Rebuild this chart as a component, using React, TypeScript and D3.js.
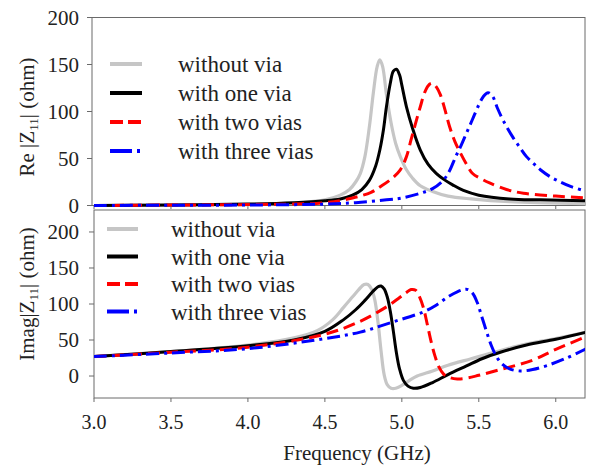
import React from "react";
import * as d3 from "d3";

type Pt = [number, number];

// ---- data (frequency GHz, value ohm) ----
const seriesNames = ["without via", "with one via", "with two vias", "with three vias"];

const reWithout: Pt[] = [
  [3.0, 0], [3.5, 0.5], [4.0, 1], [4.4, 4], [4.5, 6], [4.6, 11], [4.66, 17], [4.7, 25], [4.73, 34],
  [4.76, 52], [4.79, 85], [4.815, 120], [4.84, 148], [4.857, 155], [4.875, 148], [4.9, 118],
  [4.93, 88], [4.96, 66], [4.99, 52], [5.03, 38], [5.07, 29], [5.12, 21], [5.2, 15], [5.3, 10],
  [5.45, 7], [5.7, 4], [6.2, 2],
];
const reOne: Pt[] = [
  [3.0, 0], [3.5, 0.5], [4.0, 1.5], [4.3, 3], [4.5, 5], [4.6, 7], [4.68, 11], [4.74, 17],
  [4.79, 27], [4.83, 42], [4.857, 59], [4.88, 80], [4.9, 105], [4.925, 130], [4.945, 143],
  [4.965, 145], [4.985, 139], [5.0, 128], [5.03, 105], [5.07, 82], [5.12, 59], [5.17, 44],
  [5.225, 34], [5.28, 27], [5.33, 22], [5.4, 16], [5.5, 11], [5.7, 7], [5.9, 6], [6.2, 5],
];
const reTwo: Pt[] = [
  [3.0, 0], [3.5, 0.5], [4.0, 1], [4.5, 3], [4.68, 8], [4.8, 14], [4.86, 20], [4.93, 28],
  [4.99, 38], [5.03, 52], [5.06, 70], [5.09, 88], [5.12, 105], [5.15, 121], [5.18, 129],
  [5.2, 130], [5.225, 126], [5.25, 118], [5.28, 102], [5.31, 84], [5.345, 68], [5.38, 56],
  [5.42, 44], [5.46, 34], [5.52, 28], [5.57, 24], [5.68, 17], [5.79, 13], [6.0, 10], [6.2, 8],
];
const reThree: Pt[] = [
  [3.0, 0], [3.5, 0.3], [4.0, 0.5], [4.5, 1.5], [4.7, 3], [4.9, 6], [5.0, 8], [5.12, 13],
  [5.2, 18], [5.27, 27], [5.31, 37], [5.35, 52], [5.38, 62], [5.42, 77], [5.46, 92], [5.5, 107],
  [5.53, 116], [5.56, 120], [5.59, 116], [5.62, 104], [5.66, 90], [5.72, 73], [5.77, 61],
  [5.81, 52], [5.86, 44], [5.9, 38], [5.96, 31], [6.03, 25], [6.1, 20], [6.2, 15],
];

const imWithout: Pt[] = [
  [3.0, 27], [3.5, 34], [4.0, 43], [4.3, 53], [4.45, 63], [4.55, 78], [4.62, 95], [4.68, 110],
  [4.72, 120], [4.755, 127], [4.78, 127], [4.805, 120], [4.825, 105], [4.845, 75], [4.865, 35],
  [4.885, 2], [4.905, -12], [4.93, -17], [4.96, -17], [5.0, -13], [5.05, -6], [5.1, 0],
  [5.2, 7], [5.3, 15], [5.45, 24], [5.6, 33], [5.8, 44], [6.0, 52], [6.2, 61],
];
const imOne: Pt[] = [
  [3.0, 27], [3.5, 34], [4.0, 42], [4.3, 50], [4.5, 62], [4.62, 78], [4.7, 92], [4.76, 105],
  [4.81, 117], [4.845, 124], [4.865, 125], [4.885, 121], [4.905, 110], [4.925, 90], [4.945, 62],
  [4.965, 32], [4.985, 10], [5.01, -6], [5.04, -14], [5.075, -17], [5.12, -16], [5.2, -9],
  [5.3, 2], [5.42, 14], [5.52, 24], [5.64, 33], [5.81, 43], [6.0, 51], [6.2, 61],
];
const imTwo: Pt[] = [
  [3.0, 27], [3.5, 33], [4.0, 40], [4.5, 58], [4.73, 76], [4.9, 96], [4.98, 108], [5.03, 116],
  [5.06, 120], [5.09, 119], [5.115, 110], [5.14, 95], [5.165, 72], [5.19, 48], [5.215, 28],
  [5.24, 13], [5.27, 3], [5.31, -2], [5.36, -4], [5.42, -3], [5.5, 1], [5.64, 9], [5.85, 22],
  [6.0, 37], [6.2, 55],
];
const imThree: Pt[] = [
  [3.0, 27], [3.5, 32], [4.0, 38], [4.5, 52], [4.73, 61], [4.94, 75], [5.14, 89], [5.22, 98],
  [5.3, 110], [5.36, 117], [5.4, 120], [5.43, 120], [5.46, 115], [5.49, 102], [5.52, 82],
  [5.55, 62], [5.58, 43], [5.615, 27], [5.65, 17], [5.7, 10], [5.77, 7], [5.85, 9], [5.95, 15],
  [6.07, 25], [6.2, 38],
];

const xTicks = [3.0, 3.5, 4.0, 4.5, 5.0, 5.5, 6.0];
const reTicks = [0, 50, 100, 150, 200];
const imTicks = [0, 50, 100, 150, 200];

// ---- styles ----
const colors = ["#c6c6c6", "#000000", "#ff0000", "#0000ff"];
const dashes = ["none", "none", "12 6", "13 5 3 5"];
const widths = [3.2, 3, 3, 3];

const W = 589;
const H = 469;
const FONT = "Liberation Serif, DejaVu Serif, Noto Serif, Times, serif";
const AX = "#6a6a6a";

export default function App() {
  const x = d3.scaleLinear().domain([3, 6.19]).range([94, 585]);
  const yRe = d3.scaleLinear().domain([0, 200]).range([205.5, 17.5]);
  const yIm = d3.scaleLinear().domain([-30.5, 230.5]).range([398, 210]);

  const curve = d3.curveCatmullRom.alpha(0.5);
  const lineRe = d3.line<Pt>().x((d) => x(d[0])).y((d) => yRe(d[1])).curve(curve);
  const lineIm = d3.line<Pt>().x((d) => x(d[0])).y((d) => yIm(d[1])).curve(curve);

  const reData = [reWithout, reOne, reTwo, reThree];
  const imData = [imWithout, imOne, imTwo, imThree];

  const legend = (lx1: number, lx2: number, tx: number, y0: number, dy: number) =>
    seriesNames.map((n, i) => (
      <g key={n}>
        <line x1={lx1} x2={lx2} y1={y0 + i * dy} y2={y0 + i * dy} stroke={colors[i]}
          strokeWidth={4} strokeDasharray={i === 2 ? "13 5" : i === 3 ? "22 5 3 5" : undefined} />
        <text x={tx} y={y0 + i * dy + 8} fontSize={23} style={{ fontFamily: FONT }} fill="#222">{n}</text>
      </g>
    ));

  return (
    <svg width={W} height={H} style={{ position: "absolute", left: 0, top: 0, background: "#fff" }}>
      <defs>
        <clipPath id="clipRe"><rect x={92} y={17.5} width={493} height={191} /></clipPath>
        <clipPath id="clipIm"><rect x={94} y={210} width={491} height={188} /></clipPath>
      </defs>

      <rect x={92} y={17.5} width={493} height={188} fill="none" stroke={AX} strokeWidth={1} />
      <rect x={94} y={210} width={491} height={188} fill="none" stroke={AX} strokeWidth={1} />

      {reTicks.map((t) => (
        <g key={"rt" + t}>
          <line x1={87} x2={92} y1={yRe(t)} y2={yRe(t)} stroke={AX} />
          <text x={79} y={yRe(t) + 7} textAnchor="end" fontSize={21} style={{ fontFamily: FONT }} fill="#222">{t}</text>
        </g>
      ))}
      {imTicks.map((t) => (
        <g key={"it" + t}>
          <line x1={89} x2={94} y1={yIm(t)} y2={yIm(t)} stroke={AX} />
          <text x={79} y={yIm(t) + 7} textAnchor="end" fontSize={21} style={{ fontFamily: FONT }} fill="#222">{t}</text>
        </g>
      ))}
      {xTicks.map((t) => (
        <g key={"xt" + t}>
          <line x1={x(t)} x2={x(t)} y1={205.5} y2={209} stroke={AX} />
          <line x1={x(t)} x2={x(t)} y1={398} y2={402} stroke={AX} />
          <text x={x(t)} y={429} textAnchor="middle" fontSize={20} style={{ fontFamily: FONT }} fill="#222">{t.toFixed(1)}</text>
        </g>
      ))}

      <g clipPath="url(#clipRe)">
        {reData.map((d, i) => (
          <path key={"re" + i} d={lineRe(d) || ""} fill="none" stroke={colors[i]} strokeWidth={widths[i]}
            strokeDasharray={dashes[i]} />
        ))}
      </g>
      <g clipPath="url(#clipIm)">
        {imData.map((d, i) => (
          <path key={"im" + i} d={lineIm(d) || ""} fill="none" stroke={colors[i]} strokeWidth={widths[i]}
            strokeDasharray={dashes[i]} />
        ))}
      </g>

      {legend(110, 142, 178, 64, 29)}
      {legend(107, 138, 171, 229, 27.5)}

      <text transform="translate(34,117) rotate(-90)" textAnchor="middle" fontSize={21} style={{ fontFamily: FONT }} fill="#222">
        Re |Z<tspan fontSize={13} dy={4}>11</tspan><tspan dy={-4}>| (ohm)</tspan>
      </text>
      <text transform="translate(34,294) rotate(-90)" textAnchor="middle" fontSize={21} style={{ fontFamily: FONT }} fill="#222">
        Imag|Z<tspan fontSize={13} dy={4}>11</tspan><tspan dy={-4}>| (ohm)</tspan>
      </text>
      <text x={357} y={460} textAnchor="middle" fontSize={21} style={{ fontFamily: FONT }} fill="#222">Frequency (GHz)</text>
    </svg>
  );
}
